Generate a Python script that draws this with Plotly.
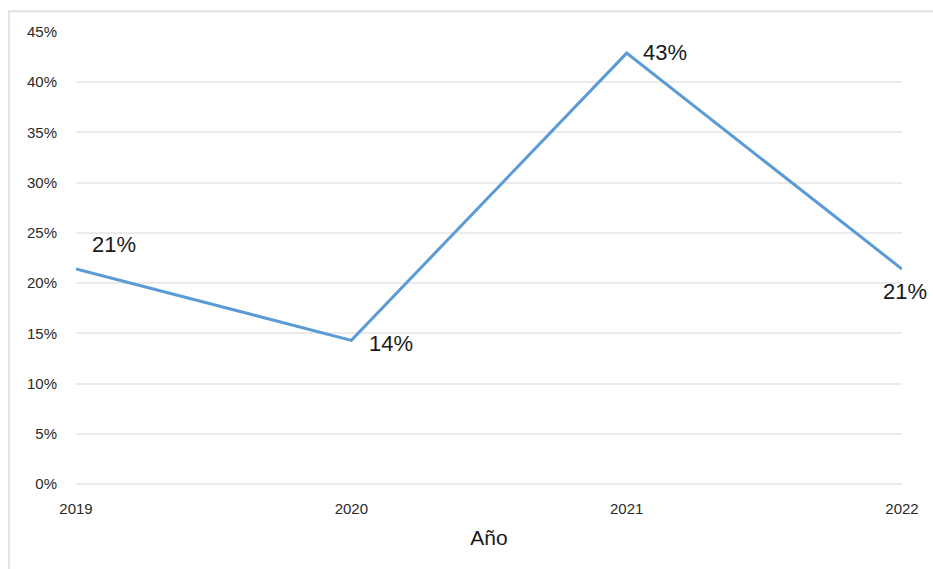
import plotly.graph_objects as go

years = [2019, 2020, 2021, 2022]
values = [0.214, 0.143, 0.429, 0.214]
labels = ["21%", "14%", "43%", "21%"]
y_ticks = [0, 0.05, 0.10, 0.15, 0.20, 0.25, 0.30, 0.35, 0.40, 0.45]
y_tick_text = ["0%", "5%", "10%", "15%", "20%", "25%", "30%", "35%", "40%", "45%"]

fig = go.Figure()
fig.add_trace(go.Scatter(x=years, y=values, mode="lines",
                         line=dict(color="#5B9BD5", width=3), hoverinfo="skip"))

# label placement: (xanchor, yanchor, xshift, yshift)
placements = [("left", "bottom", 14, 10), ("left", "middle", 16, -3),
              ("left", "middle", 14, 1), ("center", "top", 3, -8)]
for xv, yv, t, (xa, ya, xs, ys) in zip(years, values, labels, placements):
    fig.add_annotation(x=xv, y=yv, text=t, showarrow=False, xanchor=xa, yanchor=ya,
                       xshift=xs, yshift=ys,
                       font=dict(family="Liberation Sans, Arial", size=22, color="#1a1a1a"))

fig.add_shape(type="rect", xref="paper", yref="paper", x0=-0.081, x1=1.08,
              y0=-0.4, y1=1.046, line=dict(color="#e3e3e3", width=2), layer="below")

fig.update_layout(
    width=933, height=569,
    margin=dict(l=76, r=31, t=32, b=85),
    paper_bgcolor="white", plot_bgcolor="white",
    showlegend=False,
    font=dict(family="Liberation Sans, Arial", color="#2a2a2a"),
    xaxis=dict(range=[2019, 2022], tickvals=years, ticktext=[str(y) for y in years],
               showgrid=False, zeroline=False, showline=False, ticks="",
               tickfont=dict(size=15, color="#2a2a2a"), ticklabelstandoff=14,
               title=dict(text="Año", font=dict(size=21, color="#1a1a1a"), standoff=14)),
    yaxis=dict(range=[0, 0.45], tickvals=y_ticks, ticktext=y_tick_text,
               showgrid=True, gridcolor="#ebebeb", gridwidth=1.5,
               zeroline=True, zerolinecolor="#ebebeb", zerolinewidth=1.5,
               showline=False, ticks="", tickfont=dict(size=15, color="#2a2a2a"),
               ticklabelstandoff=18),
)
fig.write_html("out.html")
